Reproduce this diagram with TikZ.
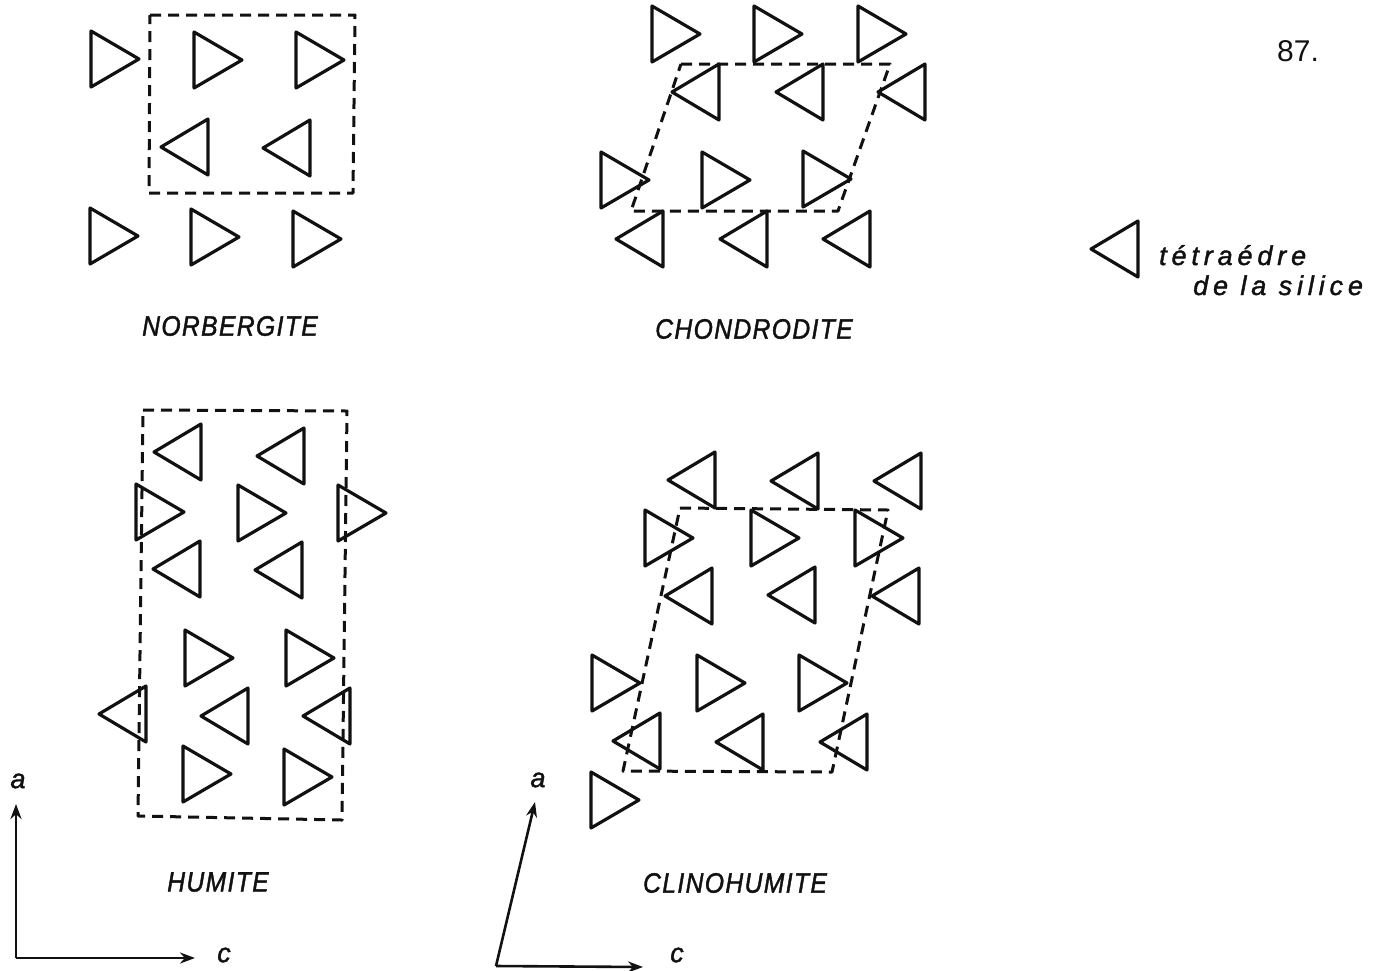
\documentclass[tikz,border=0pt]{standalone}
\usepackage{fontspec}
\setmainfont{Liberation Sans}
\newfontfamily\plotfont[LetterSpace=5,FakeStretch=0.88,FakeBold=1.5]{Liberation Sans}
\newfontfamily\legendfont[LetterSpace=18,FakeBold=1.5]{Liberation Sans}
\newfontfamily\axisfont[FakeBold=1.5]{Liberation Sans}
\definecolor{ink}{HTML}{111111}
\usetikzlibrary{arrows.meta}
\tikzset{
  tri/.style={draw=ink,line width=3.2pt,line join=round},
  cell/.style={draw=ink,line width=3pt,line join=round,dash pattern=on 11pt off 7pt},
  axis/.style={draw=ink,line width=2.6pt,-{Stealth[length=15pt,width=11pt]}},
  lab/.style={text=ink,inner sep=0pt,font=\plotfont\itshape\fontsize{28}{30}\selectfont},
  leg/.style={text=ink,inner sep=0pt,anchor=base west,font=\legendfont\itshape\fontsize{27}{29}\selectfont},
  axlab/.style={text=ink,inner sep=0pt,font=\axisfont\itshape\fontsize{27}{29}\selectfont},
  pagenum/.style={text=ink,inner sep=0pt,font=\fontsize{30}{32}\selectfont},
}
\newcommand{\RT}[2]{\draw[tri] (#1+1,#2-28)--(#1+1,#2+28)--(#1+49,#2)--cycle;}
\newcommand{\LT}[2]{\draw[tri] (#1+1,#2)--(#1+48,#2-28)--(#1+48,#2+28)--cycle;}
\begin{document}
\begin{tikzpicture}[x=1pt,y=-1pt]
\useasboundingbox (0,0) rectangle (1381,970);
% Norbergite
\RT{90}{59}\RT{193}{60}\RT{295}{60}
\LT{160}{147}\LT{262}{148}
\RT{89}{236}\RT{190}{237}\RT{292}{239}
\draw[cell] (150,15)--(355,15)--(353,193)--(149,193)--cycle;
\node[lab] (n1) at (230,326) {NORBERGITE};
% Chondrodite
\RT{651}{34}\RT{753}{34}\RT{857}{34}
\LT{671}{92}\LT{775}{92}\LT{877}{92}
\RT{600}{180}\RT{701}{180}\RT{802}{179}
\LT{615}{239}\LT{719}{239}\LT{822}{239}
\draw[cell] (681,64)--(890,64)--(838,211)--(631,211)--cycle;
\node[lab] (n2) at (754,329) {CHONDRODITE};
% Humite
\LT{153}{452}\LT{256}{456}\LT{152}{569}\LT{254}{570}
\RT{135}{512}\RT{237}{513}\RT{337}{513}
\RT{184}{658}\RT{285}{658}
\LT{98}{714}\LT{200}{716}\LT{302}{716}
\RT{182}{774}\RT{283}{777}
\draw[cell] (143,410)--(347,411)--(342,820)--(138,816)--cycle;
\node[lab] (n3) at (218,882) {HUMITE};
% Clinohumite
\LT{667}{480}\LT{770}{481}\LT{873}{481}
\RT{644}{538}\RT{750}{538}\RT{854}{538}
\LT{664}{596}\LT{767}{595}\LT{871}{596}
\RT{591}{683}\RT{696}{683}\RT{798}{683}
\LT{612}{741}\LT{715}{742}\LT{819}{742}
\RT{590}{800}
\draw[cell] (680,508)--(888,510)--(832,772)--(623,771)--cycle;
\node[lab] (n4) at (735,883) {CLINOHUMITE};
% Legend
\LT{1090}{249}
\node[leg] (l1) at (1159,265) {tétraédre};
\node[leg] (l2) at (1193,295) {de la silice};
\node[pagenum] (p) at (1298,51) {87.};
% Axes
\coordinate (o1) at (16,958);
\coordinate (a1) at (16,804);
\coordinate (c1) at (195,958);
\draw[axis] (o1)--(a1);
\draw[axis] (o1)--(c1);
\node[axlab] (ta1) at (18,781) {a};
\node[axlab] (tc1) at (224,955) {c};
\coordinate (o2) at (496,966);
\coordinate (a2) at (535,802);
\coordinate (c2) at (643,967);
\draw[axis] (o2)--(a2);
\draw[axis] (o2)--(c2);
\node[axlab] (ta2) at (538,780) {a};
\node[axlab] (tc2) at (677,955) {c};
\end{tikzpicture}
\end{document}
